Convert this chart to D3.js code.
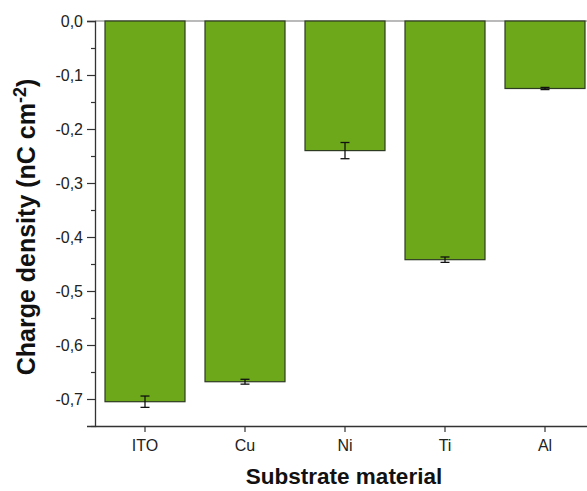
<!DOCTYPE html>
<html>
<head>
<meta charset="utf-8">
<script src="https://cdn.jsdelivr.net/npm/d3@7"></script>
<style>
  html, body { margin: 0; padding: 0; background: #fff; }
  svg { display: block; font-family: Arial, "Liberation Sans", sans-serif; }
</style>
</head>
<body>
<svg id="chart" width="587" height="491"></svg>
<script>
const categories = ["ITO", "Cu", "Ni", "Ti", "Al"];
const values = [-0.705, -0.668, -0.240, -0.442, -0.125];
const errors = [0.0105, 0.0045, 0.015, 0.005, 0.002];
const yTicks = [0, -0.1, -0.2, -0.3, -0.4, -0.5, -0.6, -0.7];
const yMinorTicks = [-0.05, -0.15, -0.25, -0.35, -0.45, -0.55, -0.65, -0.75];
const xTitle = "Substrate material";

(function () {
const svg = d3.select("#chart");
const mLeft = 95, mRight = 595, mTop = 21, mBottom = 426;

const x = d3.scaleBand().domain(categories).range([mLeft, mRight]).paddingInner(0.2).paddingOuter(0.1);
const y = d3.scaleLinear().domain([-0.75, 0]).range([mBottom, mTop]);

const fmt = v => d3.format(".1f")(v).replace("−", "-").replace(".", ",");

// frame top line
svg.append("line").attr("x1", mLeft).attr("x2", 587).attr("y1", y(0)).attr("y2", y(0))
  .attr("stroke", "#777").attr("stroke-width", 1.2);

// bars
svg.append("g").selectAll("rect").data(categories).join("rect")
  .attr("x", d => x(d))
  .attr("width", x.bandwidth())
  .attr("y", y(0))
  .attr("height", (d, i) => y(values[i]) - y(0))
  .attr("fill", "#6ca81a")
  .attr("stroke", "#2d3b22")
  .attr("stroke-width", 1.2);

// error bars
const eb = svg.append("g").attr("stroke", "#111").attr("stroke-width", 1.3);
categories.forEach((c, i) => {
  const cx = x(c) + x.bandwidth() / 2;
  const y1 = y(values[i] + errors[i]), y2 = y(values[i] - errors[i]);
  eb.append("line").attr("x1", cx).attr("x2", cx).attr("y1", y1).attr("y2", y2);
  eb.append("line").attr("x1", cx - 4.5).attr("x2", cx + 4.5).attr("y1", y1).attr("y2", y1);
  eb.append("line").attr("x1", cx - 4.5).attr("x2", cx + 4.5).attr("y1", y2).attr("y2", y2);
});

// y axis
const yAxis = d3.axisLeft(y).tickValues(yTicks).tickFormat(fmt).tickSize(8).tickPadding(4);
const gy = svg.append("g").attr("transform", `translate(${mLeft},0)`).call(yAxis);
gy.select(".domain").attr("stroke", "#333").attr("stroke-width", 1.3);
gy.selectAll(".tick line").attr("stroke", "#333").attr("stroke-width", 1.2);
gy.selectAll(".tick text").attr("font-size", 16).attr("fill", "#222")
  .attr("font-family", "Arial, 'Liberation Sans', sans-serif");
const yMinor = d3.axisLeft(y).tickValues(yMinorTicks).tickFormat("").tickSize(4);
const gym = svg.append("g").attr("transform", `translate(${mLeft},0)`).call(yMinor);
gym.select(".domain").remove();
gym.selectAll(".tick line").attr("stroke", "#333").attr("stroke-width", 1.2);

// x axis
const xAxis = d3.axisBottom(x).tickSize(6).tickPadding(8).tickSizeOuter(0);
const gx = svg.append("g").attr("transform", `translate(0,${mBottom})`).call(xAxis);
gx.select(".domain").attr("stroke", "#333").attr("stroke-width", 1.3);
gx.selectAll(".tick line").attr("stroke", "#333").attr("stroke-width", 1.2);
gx.selectAll(".tick text").attr("font-size", 16).attr("fill", "#222")
  .attr("font-family", "Arial, 'Liberation Sans', sans-serif");

// titles
svg.append("text").attr("x", 344).attr("y", 484).attr("text-anchor", "middle")
  .attr("font-size", 22.5).attr("font-weight", "bold").attr("fill", "#111").text(xTitle);

const yt = svg.append("text").attr("transform", "translate(35,227) rotate(-90)")
  .attr("text-anchor", "middle").attr("font-size", 25).attr("font-weight", "bold").attr("fill", "#111");
yt.append("tspan").text("Charge density (nC cm");
yt.append("tspan").attr("dy", -9).attr("font-size", 18).text("-2");
yt.append("tspan").attr("dy", 9).text(")");
})();
</script>
</body>
</html>
